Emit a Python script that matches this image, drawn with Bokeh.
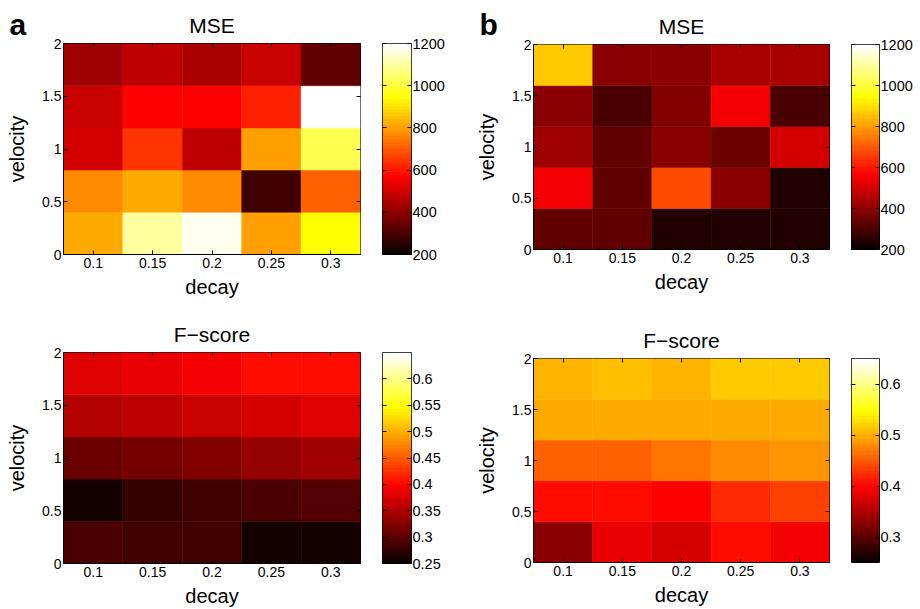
import numpy as np
from bokeh.plotting import figure
from bokeh.layouts import row, column
from bokeh.models import (Range1d, FixedTicker, LinearAxis, LinearColorMapper,
                          CustomJSTickFormatter, Title, ColumnDataSource)
from bokeh.transform import linear_cmap
from bokeh.embed import file_html
from bokeh.resources import INLINE

# ---------------- data ----------------
decay = [0.1, 0.15, 0.2, 0.25, 0.3]
velocity = [0.2, 0.6, 1.0, 1.4, 1.8]   # row centres, bottom to top

# rows listed bottom (velocity 0.2) to top (velocity 1.8)
mse_a = [
    [810, 1100, 1170, 805, 935],
    [765, 810, 775, 290, 700],
    [500, 650, 470, 800, 1025],
    [495, 565, 570, 615, 1200],
    [430, 475, 447, 488, 330],
]
mse_b = [
    [340, 329, 240, 232, 232],
    [550, 329, 675, 388, 235],
    [425, 329, 388, 341, 500],
    [400, 294, 376, 550, 294],
    [870, 388, 388, 447, 447],
]
f_a = [
    [0.292, 0.283, 0.285, 0.257, 0.257],
    [0.262, 0.278, 0.283, 0.288, 0.300],
    [0.310, 0.316, 0.320, 0.335, 0.338],
    [0.353, 0.358, 0.363, 0.372, 0.375],
    [0.380, 0.386, 0.390, 0.400, 0.405],
]
f_b = [
    [0.325, 0.382, 0.370, 0.402, 0.391],
    [0.400, 0.400, 0.397, 0.424, 0.435],
    [0.450, 0.456, 0.466, 0.475, 0.482],
    [0.494, 0.494, 0.499, 0.499, 0.499],
    [0.506, 0.508, 0.506, 0.513, 0.518],
]

mse_range = (200, 1200)
f_range = (0.25, 0.65)
mse_ticks = [200, 400, 600, 800, 1000, 1200]
fa_ticks = [0.25, 0.3, 0.35, 0.4, 0.45, 0.5, 0.55, 0.6]
fb_ticks = [0.3, 0.4, 0.5, 0.6]
x_ticks = [0.1, 0.15, 0.2, 0.25, 0.3]
y_ticks = [0, 0.5, 1, 1.5, 2]

# ---------------- MATLAB "hot" colormap ----------------
def hot(m=64):
    n = int(3 / 8 * m)
    r = np.concatenate([np.arange(1, n + 1) / n, np.ones(m - n)])
    g = np.concatenate([np.zeros(n), np.arange(1, n + 1) / n, np.ones(m - 2 * n)])
    b = np.concatenate([np.zeros(2 * n), np.arange(1, m - 2 * n + 1) / (m - 2 * n)])
    return ["#%02x%02x%02x" % (int(round(rr * 255)), int(round(gg * 255)), int(round(bb * 255)))
            for rr, gg, bb in zip(r, g, b)]

HOT = hot(64)
FONT = "Liberation Sans"
FMT = CustomJSTickFormatter(code="return String(Math.round(tick*1000)/1000)")
BLANK = CustomJSTickFormatter(code="return ''")


def style_axis(ax, size="14px"):
    ax.major_tick_in = 4
    ax.major_tick_out = 0
    ax.minor_tick_line_color = None
    ax.axis_line_color = "black"
    ax.major_tick_line_color = "black"
    ax.major_label_text_font = FONT
    ax.major_label_text_font_size = size
    ax.major_label_text_color = "black"
    ax.major_label_text_line_height = 1.0
    ax.axis_label_text_font = FONT
    ax.axis_label_text_font_size = "20px"
    ax.axis_label_text_font_style = "normal"
    ax.axis_label_text_color = "black"
    ax.axis_label_text_line_height = 1.0


def heatmap(vals, rng, title, w, h, bl, br, bt, bb, letter=None):
    xs, ys, vs = [], [], []
    for i, v in enumerate(velocity):
        for j, d in enumerate(decay):
            xs.append(d)
            ys.append(v)
            vs.append(vals[i][j])
    src = ColumnDataSource(dict(x=xs, y=ys, v=vs))
    ltitle = None
    if letter is not None:
        ltitle = Title(text=letter[0], align="left", offset=letter[1], standoff=letter[2],
                       text_font=FONT, text_font_size="30px", text_font_style="bold",
                       text_color="black")
    p = figure(width=w, height=h, output_backend="svg", toolbar_location=None,
               title=ltitle,
               x_range=Range1d(0.075, 0.325), y_range=Range1d(0, 2),
               min_border_left=bl, min_border_right=br, min_border_top=bt,
               min_border_bottom=bb, background_fill_color="white",
               border_fill_color="white")
    cmap = linear_cmap("v", HOT, rng[0], rng[1])
    p.rect(x="x", y="y", width=0.05, height=0.4, source=src,
           fill_color=cmap, line_color=cmap, line_width=0.5)
    p.grid.visible = False
    p.outline_line_color = "black"
    p.outline_line_width = 1
    p.xaxis.ticker = FixedTicker(ticks=x_ticks)
    p.yaxis.ticker = FixedTicker(ticks=y_ticks)
    p.xaxis.formatter = FMT
    p.yaxis.formatter = FMT
    p.xaxis.axis_label = "decay"
    p.yaxis.axis_label = "velocity"
    for ax in p.xaxis + p.yaxis:
        style_axis(ax)
    p.xaxis.major_label_standoff = 3
    p.xaxis.axis_label_standoff = 5
    p.yaxis.major_label_standoff = 2
    p.yaxis.axis_label_standoff = 11
    top = LinearAxis(ticker=FixedTicker(ticks=x_ticks), formatter=BLANK)
    right = LinearAxis(ticker=FixedTicker(ticks=y_ticks), formatter=BLANK)
    for ax in (top, right):
        style_axis(ax)
        ax.major_label_standoff = 0
        ax.axis_line_color = None
    p.add_layout(top, "above")
    p.add_layout(right, "right")
    p.add_layout(Title(text=title, align="center", text_font=FONT, text_font_size="21px",
                       text_font_style="normal", text_color="black", standoff=13), "above")
    return p


def colorbar(rng, ticks, w, h, bl, br, bt, bb):
    mapper = LinearColorMapper(palette=HOT, low=rng[0], high=rng[1])
    p = figure(width=w, height=h, output_backend="svg", toolbar_location=None,
               x_range=Range1d(0, 1), y_range=Range1d(rng[0], rng[1]),
               x_axis_location=None, y_axis_location="right",
               min_border_left=bl, min_border_right=br, min_border_top=bt,
               min_border_bottom=bb, border_fill_color="white")
    grad = np.linspace(rng[0], rng[1], 256).reshape(256, 1)
    p.image(image=[grad], x=0, y=rng[0], dw=1, dh=rng[1] - rng[0], color_mapper=mapper)
    p.grid.visible = False
    p.outline_line_color = "black"
    p.yaxis.ticker = FixedTicker(ticks=ticks)
    p.yaxis.formatter = FMT
    for ax in p.yaxis:
        style_axis(ax, size="14.5px")
        ax.major_label_standoff = 1
        ax.axis_line_color = None
    left = LinearAxis(ticker=FixedTicker(ticks=ticks), formatter=BLANK)
    style_axis(left)
    left.major_label_standoff = 0
    left.axis_line_color = None
    p.add_layout(left, "left")
    return p


# left half (panel a) and right half (panel b), each a column of two rows
p1 = heatmap(mse_a, mse_range, "MSE", 370, 303, 63, 10, 43, 49, letter=("a", -54, -70))
c1 = colorbar(mse_range, mse_ticks, 90, 303, 12, 49, 43, 49)
p3 = heatmap(f_a, f_range, "F\u2212score", 370, 306, 63, 10, 49, 45)
c3 = colorbar(f_range, fa_ticks, 90, 306, 12, 49, 49, 45)

p2 = heatmap(mse_b, mse_range, "MSE", 381, 303, 73, 12, 44, 54, letter=("b", -54, -68))
c2 = colorbar(mse_range, mse_ticks, 79, 303, 10, 41, 44, 54)
p4 = heatmap(f_b, f_range, "F\u2212score", 381, 306, 73, 12, 55, 47)
c4 = colorbar(f_range, fb_ticks, 79, 306, 10, 41, 55, 47)

left_half = column(row(p1, c1, spacing=0), row(p3, c3, spacing=0), spacing=0)
right_half = column(row(p2, c2, spacing=0), row(p4, c4, spacing=0), spacing=0)
layout = row(left_half, right_half, spacing=0)

open("out.html", "w").write(file_html(layout, INLINE))
